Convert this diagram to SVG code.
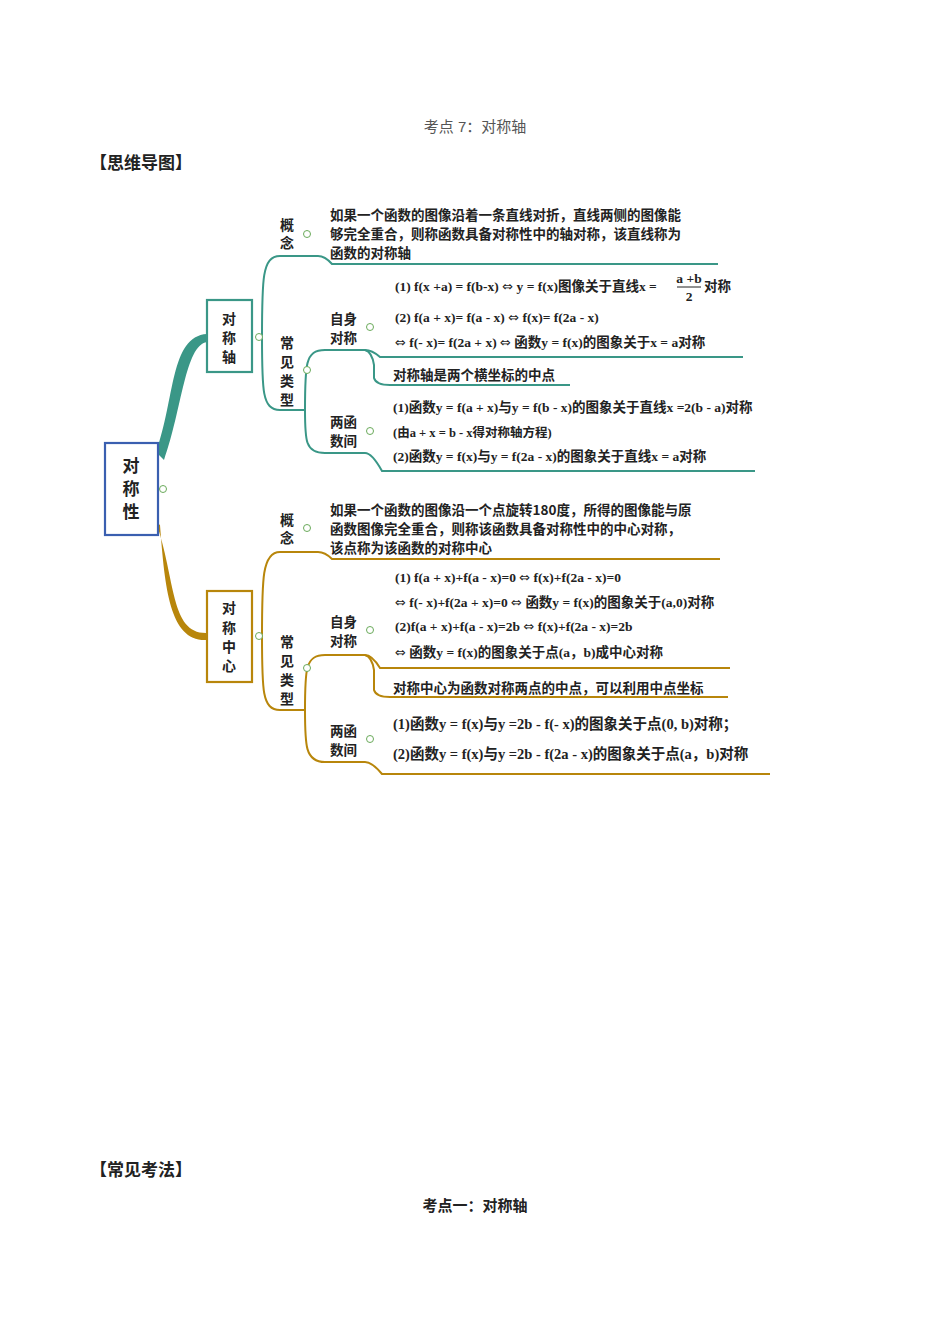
<svg xmlns="http://www.w3.org/2000/svg" width="950" height="1344" viewBox="0 0 950 1344">
<style>
text{font-family:"Liberation Sans","Noto Sans CJK SC",sans-serif;fill:#222}
.h{font-size:17px;font-weight:bold}
.t{font-size:13.5px;font-weight:bold;font-family:"Noto Sans CJK SC",sans-serif}
.f{font-size:13.5px;font-weight:bold;font-family:"Liberation Serif","Noto Sans CJK SC",serif}
.a{font-family:"DejaVu Sans",sans-serif;font-weight:normal;font-size:13px}
.v{font-size:14px;font-weight:bold;text-anchor:middle;font-family:"Noto Sans CJK SC",sans-serif}
.tl{fill:none;stroke:#3a9787;stroke-width:2}
.gd{fill:none;stroke:#b8860b;stroke-width:2}
.c{fill:#fff;stroke:#6aaa5a;stroke-width:1}
.box{fill:#fff;stroke-width:2.2}
</style>
<text x="475" y="132" text-anchor="middle" style="font-size:15px;fill:#555">考点 7：对称轴</text>
<text x="90" y="169" class="h">【思维导图】</text>
<text x="90" y="1176" class="h">【常见考法】</text>
<text x="475" y="1211" text-anchor="middle" style="font-size:15px;font-weight:bold">考点一：对称轴</text>

<g id="connectors">
<path d="M156,452 C175,400 170,336 207,334 L207,342 C185,345 182,410 164,460 Z" fill="#3a9787"/>
<path d="M156,522 C176,580 170,634 207,633 L207,640 C170,642 165,590 160,525 Z" fill="#b8860b"/>
<path class="tl" d="M262,337 C262,280 262,256 280,256 L318,256 Q325,256 332,264 L718,264"/>
<path class="tl" d="M262,337 C262,390 262,410 280,410 L305,410"/>
<path class="tl" d="M305,410 C305,365 305,350 325,350 L365,350 Q372,350 380,357 L743,357"/>
<path class="tl" d="M365,350 Q372,352 374,365 L374,378 Q376,385 390,385 L570,385"/>
<path class="tl" d="M305,410 C305,440 305,453 325,453 L365,453 Q372,453 382,471 L755,471"/>
<path class="gd" d="M262,636 C262,580 262,552 280,552 L318,552 Q325,552 332,559 L720,559"/>
<path class="gd" d="M262,636 C262,690 262,710 280,710 L305,710"/>
<path class="gd" d="M305,710 C305,670 305,655 325,655 L365,655 Q372,655 380,668 L730,668"/>
<path class="gd" d="M365,655 Q372,657 374,670 L374,690 Q376,697 390,697 L728,697"/>
<path class="gd" d="M305,710 C305,745 305,762 325,762 L365,762 Q372,762 382,774 L770,774"/>
</g>

<g id="root">
<rect class="box" x="105" y="443" width="53" height="92" stroke="#3a5fb0"/>
<text class="v" x="131" y="472" style="font-size:17px">对</text>
<text class="v" x="131" y="495" style="font-size:17px">称</text>
<text class="v" x="131" y="518" style="font-size:17px">性</text>
<circle class="c" cx="163" cy="489" r="3.5"/>
</g>

<g id="axis">
<rect class="box" x="207" y="300" width="45" height="72" stroke="#3a9787"/>
<text class="v" x="229" y="324">对</text><text class="v" x="229" y="343">称</text><text class="v" x="229" y="362">轴</text>
<circle class="c" cx="259" cy="337" r="3.5"/>
</g>
<g id="axis-concept">
<text class="v" x="287" y="230">概</text><text class="v" x="287" y="248">念</text>
<circle class="c" cx="307" cy="234" r="3.5"/>
<text class="t" x="330" y="220">如果一个函数的图像沿着一条直线对折，直线两侧的图像能</text>
<text class="t" x="330" y="239">够完全重合，则称函数具备对称性中的轴对称，该直线称为</text>
<text class="t" x="330" y="258">函数的对称轴</text>
</g>
<g id="axis-types">
<text class="v" x="287" y="348">常</text><text class="v" x="287" y="367">见</text><text class="v" x="287" y="386">类</text><text class="v" x="287" y="405">型</text>
<circle class="c" cx="307" cy="370" r="3.5"/>
</g>
<g id="axis-self">
<text class="t" x="330" y="324">自身</text><text class="t" x="330" y="343">对称</text>
<circle class="c" cx="370" cy="327" r="3.5"/>
<text class="f" x="395" y="291">(1) f(x +a) = f(b-x) <tspan class="a">⇔</tspan> y = f(x)图像关于直线x =</text>
<text class="f" x="689" y="283" text-anchor="middle">a +b</text>
<line x1="677" y1="287" x2="701" y2="287" stroke="#222"/>
<text class="f" x="689" y="301" text-anchor="middle">2</text>
<text class="f" x="704" y="291">对称</text>
<text class="f" x="395" y="322">(2) f(a + x)= f(a - x) <tspan class="a">⇔</tspan> f(x)= f(2a - x)</text>
<text class="f" x="395" y="347"><tspan class="a">⇔</tspan> f(- x)= f(2a + x) <tspan class="a">⇔</tspan> 函数y = f(x)的图象关于x = a对称</text>
<text class="t" x="393" y="380">对称轴是两个横坐标的中点</text>
</g>
<g id="axis-two">
<text class="t" x="330" y="427">两函</text><text class="t" x="330" y="446">数间</text>
<circle class="c" cx="370" cy="431" r="3.5"/>
<text class="f" x="393" y="412">(1)函数y = f(a + x)与y = f(b - x)的图象关于直线x =2(b - a)对称</text>
<text class="f" x="393" y="437" style="font-size:12.5px">(由a + x = b - x得对称轴方程)</text>
<text class="f" x="393" y="461">(2)函数y = f(x)与y = f(2a - x)的图象关于直线x = a对称</text>
</g>

<g id="center">
<rect class="box" x="207" y="591" width="45" height="91" stroke="#b8860b"/>
<text class="v" x="229" y="613">对</text><text class="v" x="229" y="633">称</text><text class="v" x="229" y="652">中</text><text class="v" x="229" y="671">心</text>
<circle class="c" cx="259" cy="636" r="3.5"/>
</g>
<g id="center-concept">
<text class="v" x="287" y="525">概</text><text class="v" x="287" y="543">念</text>
<circle class="c" cx="307" cy="528" r="3.5"/>
<text class="t" x="330" y="515">如果一个函数的图像沿一个点旋转180度，所得的图像能与原</text>
<text class="t" x="330" y="534">函数图像完全重合，则称该函数具备对称性中的中心对称，</text>
<text class="t" x="330" y="553">该点称为该函数的对称中心</text>
</g>
<g id="center-types">
<text class="v" x="287" y="647">常</text><text class="v" x="287" y="666">见</text><text class="v" x="287" y="685">类</text><text class="v" x="287" y="704">型</text>
<circle class="c" cx="307" cy="668" r="3.5"/>
</g>
<g id="center-self">
<text class="t" x="330" y="627">自身</text><text class="t" x="330" y="646">对称</text>
<circle class="c" cx="370" cy="630" r="3.5"/>
<text class="f" x="395" y="582">(1) f(a + x)+f(a - x)=0 <tspan class="a">⇔</tspan> f(x)+f(2a - x)=0</text>
<text class="f" x="395" y="607"><tspan class="a">⇔</tspan> f(- x)+f(2a + x)=0 <tspan class="a">⇔</tspan> 函数y = f(x)的图象关于(a,0)对称</text>
<text class="f" x="395" y="631">(2)f(a + x)+f(a - x)=2b <tspan class="a">⇔</tspan> f(x)+f(2a - x)=2b</text>
<text class="f" x="395" y="657"><tspan class="a">⇔</tspan> 函数y = f(x)的图象关于点(a，b)成中心对称</text>
<text class="t" x="393" y="693">对称中心为函数对称两点的中点，可以利用中点坐标</text>
</g>
<g id="center-two">
<text class="t" x="330" y="736">两函</text><text class="t" x="330" y="755">数间</text>
<circle class="c" cx="370" cy="739" r="3.5"/>
<text class="f" x="393" y="729" style="font-size:14.5px">(1)函数y = f(x)与y =2b - f(- x)的图象关于点(0, b)对称；</text>
<text class="f" x="393" y="759" style="font-size:14.5px">(2)函数y = f(x)与y =2b - f(2a - x)的图象关于点(a，b)对称</text>
</g>
</svg>
